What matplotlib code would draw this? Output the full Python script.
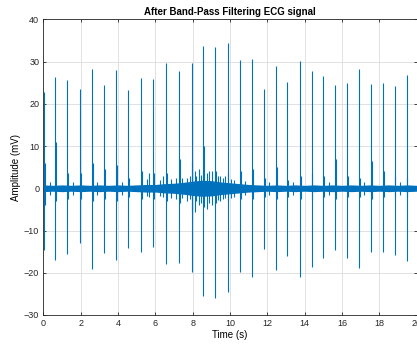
import matplotlib
matplotlib.use("Agg")
import matplotlib.pyplot as plt
import numpy as np

# Beat (R-peak) times in seconds, positive peaks and negative troughs (mV)
beat_t = [0.02, 0.64, 1.29, 1.95, 2.59, 3.24, 3.90, 4.54, 5.24, 5.90,
          6.58, 7.28, 7.94, 8.58, 9.22, 9.87, 10.53, 11.17, 11.82, 12.46,
          13.08, 13.73, 14.37, 14.98, 15.62, 16.27, 16.91, 17.56, 18.20, 18.82, 19.46]
beat_peak = [22.8, 26.3, 25.6, 23.5, 28.3, 24.5, 28.0, 23.3, 26.0, 25.8,
             29.6, 27.8, 29.6, 33.7, 33.4, 34.5, 30.3, 30.6, 23.5, 29.0,
             25.2, 30.1, 27.7, 26.6, 24.4, 25.0, 28.3, 24.8, 25.0, 24.2, 26.8]
beat_trough = [-14.6, -17.0, -15.6, -13.0, -19.1, -15.4, -16.9, -14.2, -15.0, -13.8,
               -17.9, -17.8, -19.9, -25.5, -26.0, -24.5, -19.9, -20.9, -14.4, -19.3,
               -16.1, -21.1, -18.7, -16.6, -14.6, -16.4, -18.9, -15.1, -15.0, -15.7, -17.2]

# Secondary wave right after each beat (mV)
twave_peak = [6.0, 11.0, 3.5, 3.5, 6.0, 4.5, 5.5, 2.5, 4.0, 3.5,
              3.5, 7.0, 6.5, 10.0, 4.0, 3.5, 4.0, 4.5, 2.5, 5.0,
              2.0, 3.0, 3.5, 3.0, 7.0, 3.0, 2.5, 6.5, 4.0, 3.0, 2.5]
twave_trough = [-4.0, -3.0, -2.5, -2.5, -3.0, -2.5, -3.0, -2.0, -2.5, -2.5,
                -3.0, -3.5, -5.5, -4.5, -3.5, -3.0, -2.5, -2.5, -2.0, -2.5,
                -2.0, -2.5, -2.5, -2.0, -2.5, -2.0, -2.0, -2.5, -2.0, -2.0, -2.0]

# Extra artefact spikes (mostly in the noisy middle segment)
art_t = [0.35, 1.6, 2.9, 4.2, 5.55, 5.65, 6.25, 6.40, 6.85, 7.10, 7.45, 7.70,
         7.85, 8.10, 8.20, 8.35, 8.45, 8.75, 8.85, 9.05, 9.35, 9.45, 9.65,
         9.75, 10.05, 10.2, 10.8, 12.1, 13.4, 15.3, 17.2, 19.1]
art_hi = [1.5, 1.5, 1.6, 1.5, 2.2, 3.5, 2.0, 3.0, 2.2, 2.5, 2.4, 2.5,
          2.8, 4.0, 3.0, 4.5, 3.2, 3.5, 4.0, 4.0, 2.8, 3.0, 2.5,
          2.8, 2.2, 2.0, 1.8, 1.5, 1.6, 1.5, 1.5, 1.5]
art_lo = [-1.5, -1.5, -1.6, -1.5, -1.8, -2.0, -1.8, -2.0, -2.2, -2.5, -2.2, -3.0,
          -2.6, -5.5, -3.0, -4.0, -3.4, -5.0, -3.5, -4.0, -2.8, -3.0, -2.5,
          -2.4, -2.2, -2.0, -1.6, -1.5, -1.5, -1.5, -1.5, -1.5]

# Baseline noise envelope (half-width in mV) every 0.5 s
noise_t = [0.0, 0.5, 1.0, 1.5, 2.0, 2.5, 3.0, 3.5, 4.0, 4.5, 5.0, 5.5, 6.0, 6.5,
           7.0, 7.5, 8.0, 8.5, 9.0, 9.5, 10.0, 10.5, 11.0, 11.5, 12.0, 12.5, 13.0,
           13.5, 14.0, 14.5, 15.0, 15.5, 16.0, 16.5, 17.0, 17.5, 18.0, 18.5, 19.0,
           19.5, 20.0]
noise_up = [0.8, 0.7, 0.8, 0.7, 0.8, 0.7, 0.8, 0.7, 0.8, 0.7, 0.8, 0.9, 0.9, 1.1,
            1.2, 1.4, 1.7, 1.9, 1.8, 1.5, 1.3, 1.1, 0.9, 0.8, 0.7, 0.8, 0.7,
            0.8, 0.7, 0.8, 0.7, 0.8, 0.7, 0.8, 0.7, 0.8, 0.7, 0.8, 0.7, 0.8, 0.7]
noise_dn = [-0.8, -0.7, -0.8, -0.7, -0.8, -0.7, -0.8, -0.7, -0.8, -0.7, -0.8, -0.9, -0.9, -1.1,
            -1.2, -1.4, -1.7, -1.9, -1.8, -1.5, -1.3, -1.1, -0.9, -0.8, -0.7, -0.8, -0.7,
            -0.8, -0.7, -0.8, -0.7, -0.8, -0.7, -0.8, -0.7, -0.8, -0.7, -0.8, -0.7, -0.8, -0.7]

xticks = [0, 2, 4, 6, 8, 10, 12, 14, 16, 18, 20]
yticks = [-30, -20, -10, 0, 10, 20, 30, 40]

blue = "#0072BD"
plt.rcParams['font.family'] = ['Liberation Sans', 'DejaVu Sans']

fig = plt.figure(figsize=(4.17, 3.45), dpi=100)
ax = fig.add_axes([0.104, 0.087, 0.895, 0.857])

ax.fill_between(noise_t, noise_dn, noise_up, color=blue, lw=0, zorder=2)
ax.vlines(beat_t, beat_trough, beat_peak, color=blue, lw=0.8, zorder=3)
ax.vlines(np.array(beat_t) + 0.05, twave_trough, twave_peak, color=blue, lw=0.8, zorder=3)
ax.vlines(art_t, art_lo, art_hi, color=blue, lw=0.8, zorder=3)

ax.set_xlim(0, 20)
ax.set_ylim(-30, 40)
ax.set_xticks(xticks)
ax.set_yticks(yticks)
ax.grid(True, color="#dcdcdc", lw=0.6, zorder=0)
ax.set_axisbelow(True)
ax.tick_params(direction="in", length=2.5, width=0.6, labelsize=6.5,
               top=True, right=True, colors="#262626", pad=3)
for s in ax.spines.values():
    s.set_linewidth(0.6)
    s.set_color("#262626")

ax.set_title("After Band-Pass Filtering ECG signal", fontsize=7, fontweight="bold", pad=3)
ax.set_xlabel("Time (s)", fontsize=7, labelpad=1)
ax.set_ylabel("Amplitude (mV)", fontsize=7, labelpad=2)

fig.savefig("out.png", dpi=100)
